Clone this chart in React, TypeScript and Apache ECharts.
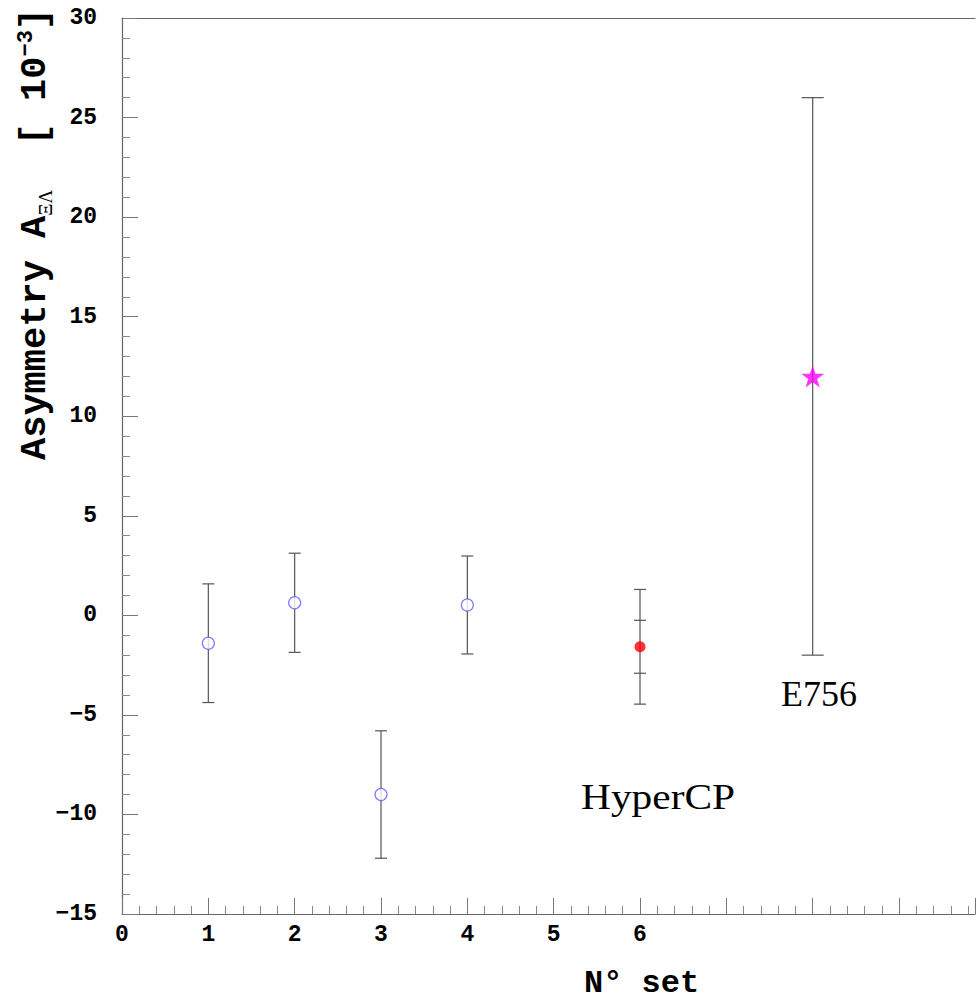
import React, { useEffect, useRef } from "react";
import * as echarts from "echarts";

// ---- data ----
const setX = [1, 2, 3, 4];
const setY = [-1.4, 0.63, -9.0, 0.52];
const setErr = [2.98, 2.49, 3.2, 2.46];

const hyperX = [6];
const hyperY = [-1.58];
const hyperStatErr = [1.33];
const hyperTotErr = [2.88];

const e756X = [8];
const e756Y = [12.0];
const e756Err = [14.0];

const xTickLabels = ["0", "1", "2", "3", "4", "5", "6"];

const STAR =
  "path://M12,0 L14.9,8.9 L24,8.9 L16.6,14.4 L19.4,23.3 L12,17.8 L4.6,23.3 L7.4,14.4 L0,8.9 L9.1,8.9 Z";

function errRender(cap: number, inner: boolean) {
  return (params: any, api: any) => {
    const x = api.value(0);
    const y = api.value(1);
    const e = api.value(2);
    const top = api.coord([x, y + e]);
    const bot = api.coord([x, y - e]);
    const style = { stroke: "#555", lineWidth: 1.2 };
    const children: any[] = [
      { type: "line", shape: { x1: top[0], y1: top[1], x2: bot[0], y2: bot[1] }, style },
      { type: "line", shape: { x1: top[0] - cap, y1: top[1], x2: top[0] + cap, y2: top[1] }, style },
      { type: "line", shape: { x1: bot[0] - cap, y1: bot[1], x2: bot[0] + cap, y2: bot[1] }, style },
    ];
    if (inner) {
      const s = api.value(3);
      const t2 = api.coord([x, y + s]);
      const b2 = api.coord([x, y - s]);
      children.push(
        { type: "line", shape: { x1: t2[0] - cap, y1: t2[1], x2: t2[0] + cap, y2: t2[1] }, style },
        { type: "line", shape: { x1: b2[0] - cap, y1: b2[1], x2: b2[0] + cap, y2: b2[1] }, style }
      );
    }
    return { type: "group", children };
  };
}

const MONO = "'Liberation Mono', 'DejaVu Sans Mono', monospace";
const SERIF = "'Liberation Serif', 'DejaVu Serif', serif";

export default function App() {
  const ref = useRef<HTMLDivElement>(null);
  useEffect(() => {
    if (!ref.current) return;
    const chart = echarts.init(ref.current, undefined, { renderer: "svg" });
    const axisColor = "#666";
    const option: any = {
      animation: false,
      backgroundColor: "#fff",
      grid: { left: 122, top: 18, right: 0, bottom: 88, containLabel: false },
      xAxis: [
        {
          type: "value",
          min: 0,
          max: 9.88,
          interval: 1,
          axisLine: { show: true, onZero: false, lineStyle: { color: axisColor, width: 1.2 } },
          axisTick: { show: true, inside: true, length: 16, lineStyle: { color: "#777" } },
          minorTick: { show: true, splitNumber: 5, length: 8, lineStyle: { color: "#888" } },
          splitLine: { show: false },
          axisLabel: {
            margin: 9,
            fontFamily: MONO,
            fontWeight: "bold",
            fontSize: 23,
            color: "#000",
            formatter: (v: number) => (Number.isInteger(v) && v < xTickLabels.length ? xTickLabels[v] : ""),
          },
        },
        {
          type: "value",
          position: "top",
          min: 0,
          max: 9.88,
          axisLine: { show: true, onZero: false, lineStyle: { color: axisColor, width: 1.2 } },
          axisTick: { show: false },
          axisLabel: { show: false },
          splitLine: { show: false },
        },
      ],
      yAxis: {
        type: "value",
        min: -15,
        max: 30,
        interval: 5,
        axisLine: { show: true, onZero: false, lineStyle: { color: axisColor, width: 1.2 } },
        axisTick: { show: true, inside: true, length: 16, lineStyle: { color: "#777" } },
        minorTick: { show: true, splitNumber: 5, length: 8, lineStyle: { color: "#888" } },
        splitLine: { show: false },
        axisLabel: {
          margin: 25,
          fontFamily: MONO,
          fontWeight: "bold",
          fontSize: 23,
          color: "#000",
          formatter: (v: number) => (v < 0 ? "\u2212" + Math.abs(v) : String(v)),
        },
      },
      graphic: [
        {
          type: "text",
          x: 35,
          y: 460,
          rotation: Math.PI / 2,
          style: {
            text: "{m|Asymmetry A}{s|ΞΛ}{m|  [ 10}{p|−3}{m|]}",
            align: "left",
            verticalAlign: "middle",
            fill: "#000",
            rich: {
              m: { fontFamily: MONO, fontWeight: "bold", fontSize: 37, fill: "#000", lineHeight: 40 },
              s: { fontFamily: SERIF, fontSize: 19, fill: "#000", verticalAlign: "bottom", lineHeight: 40 },
              p: { fontFamily: MONO, fontWeight: "bold", fontSize: 22, fill: "#000", verticalAlign: "top", lineHeight: 40 },
            },
          },
        },
        {
          type: "text",
          x: 584,
          y: 983,
          style: {
            text: "N° set",
            fontFamily: MONO,
            fontWeight: "bold",
            fontSize: 32,
            fill: "#000",
            align: "left",
            verticalAlign: "middle",
          },
        },
        {
          type: "text",
          x: 581,
          y: 796,
          scaleX: 1.15,
          style: {
            text: "HyperCP",
            fontFamily: SERIF,
            fontSize: 36,
            fill: "#000",
            align: "left",
            verticalAlign: "middle",
          },
        },
        {
          type: "text",
          x: 781,
          y: 694,
          style: {
            text: "E756",
            fontFamily: SERIF,
            fontSize: 36,
            fill: "#000",
            align: "left",
            verticalAlign: "middle",
          },
        },
      ],
      series: [
        {
          type: "custom",
          renderItem: errRender(6, false),
          data: setX.map((x, i) => [x, setY[i], setErr[i]]),
          z: 1,
        },
        {
          type: "custom",
          renderItem: errRender(6, true),
          data: hyperX.map((x, i) => [x, hyperY[i], hyperTotErr[i], hyperStatErr[i]]),
          z: 1,
        },
        {
          type: "custom",
          renderItem: errRender(11, false),
          data: e756X.map((x, i) => [x, e756Y[i], e756Err[i]]),
          z: 1,
        },
        {
          type: "scatter",
          symbol: "circle",
          symbolSize: 12,
          itemStyle: { color: "#fff", borderColor: "#5a5aff", borderWidth: 1.2 },
          data: setX.map((x, i) => [x, setY[i]]),
          z: 3,
        },
        {
          type: "scatter",
          symbol: "circle",
          symbolSize: 11,
          itemStyle: { color: "#ff0000" },
          data: hyperX.map((x, i) => [x, hyperY[i]]),
          z: 3,
        },
        {
          type: "scatter",
          symbol: STAR,
          symbolSize: [23, 22],
          itemStyle: { color: "#ff00ff" },
          data: e756X.map((x, i) => [x, e756Y[i]]),
          z: 3,
        },
      ],
    };
    chart.setOption(option);
    return () => chart.dispose();
  }, []);
  return (
    <div
      ref={ref}
      style={{ position: "absolute", left: 0, top: 0, width: 978, height: 1002, background: "#fff" }}
    />
  );
}
